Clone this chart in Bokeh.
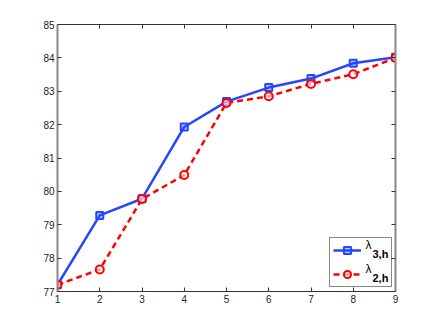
from bokeh.plotting import figure
from bokeh.models import Range1d, LinearAxis, FixedTicker, Legend, LegendItem, Label, CustomJSTickFormatter
from bokeh.embed import file_html
from bokeh.resources import INLINE

x_vals = [1, 2, 3, 4, 5, 6, 7, 8, 9]
lam3h = [77.2, 79.28, 79.78, 81.93, 82.69, 83.11, 83.38, 83.84, 84.02]
lam2h = [77.2, 77.66, 79.77, 80.49, 82.65, 82.85, 83.22, 83.51, 84.0]
x_ticks = [1, 2, 3, 4, 5, 6, 7, 8, 9]
y_ticks = [77, 78, 79, 80, 81, 82, 83, 84, 85]

W, H = 436, 328
p = figure(width=W, height=H, output_backend="svg", toolbar_location=None,
           x_range=Range1d(1, 9), y_range=Range1d(77, 85),
           min_border_left=57, min_border_right=41, min_border_top=24, min_border_bottom=37)
p.grid.visible = False
p.outline_line_color = "#333333"
p.outline_line_width = 1
p.background_fill_color = "white"
p.border_fill_color = "white"

FONT = "Liberation Sans"
for ax in p.xaxis + p.yaxis:
    ax.ticker = FixedTicker(ticks=x_ticks if ax in p.xaxis else y_ticks)
    ax.major_tick_in = 4
    ax.major_tick_out = 0
    ax.minor_tick_line_color = None
    ax.major_label_text_font = FONT
    ax.major_label_text_font_size = "10px"
    ax.major_label_text_color = "#222222"
    ax.major_tick_line_color = "#333333"
    ax.major_label_standoff = 3
p.yaxis.axis_line_color = "#888888"
p.yaxis.axis_line_width = 2
p.xaxis.axis_line_color = "#333333"

blank = CustomJSTickFormatter(code="return ''")
top = LinearAxis(ticker=FixedTicker(ticks=x_ticks), formatter=blank,
                 major_tick_in=4, major_tick_out=0, minor_tick_line_color=None,
                 axis_line_color="#333333", major_tick_line_color="#333333")
right = LinearAxis(ticker=FixedTicker(ticks=y_ticks), formatter=blank,
                   major_tick_in=4, major_tick_out=0, minor_tick_line_color=None,
                   axis_line_color="#888888", axis_line_width=2, major_tick_line_color="#333333")
p.add_layout(top, "above")
p.add_layout(right, "right")

BLUE = "#2446ff"
RED = "#ff0000"
l1 = p.line(x_vals, lam3h, line_color=BLUE, line_width=2.5)
m1 = p.scatter(x_vals, lam3h, marker="square", size=7, line_color=BLUE, line_width=2,
               fill_color=BLUE, fill_alpha=0.3)
l2 = p.line(x_vals, lam2h, line_color=RED, line_width=2.5, line_dash="6 4")
m2 = p.scatter(x_vals, lam2h, marker="circle", size=8, line_color=RED, line_width=2,
               fill_color="white", fill_alpha=0.6)

legend = Legend(items=[LegendItem(label="", renderers=[l1, m1]),
                       LegendItem(label="", renderers=[l2, m2])],
                location=(272, 4), glyph_width=28, glyph_height=18, padding=3,
                spacing=6, label_standoff=3, label_width=24, margin=0,
                border_line_color="#111111", border_line_width=1,
                background_fill_alpha=0.0, label_text_font_size="10px")
p.add_layout(legend, "center")

# legend text: lambda with subscript, positioned relative to frame
for i, sub in enumerate(["3,h", "2,h"]):
    yb = 40 - i * 24
    p.add_layout(Label(x=308, y=yb, x_units="screen", y_units="screen", text="λ",
                       text_font=FONT, text_font_size="12px", text_color="#000000",
                       level="overlay"))
    p.add_layout(Label(x=315, y=yb - 8, x_units="screen", y_units="screen", text=sub,
                       text_font=FONT, text_font_size="11px", text_color="#000000",
                       text_font_style="bold", level="overlay"))

open("out.html", "w").write(file_html(p, INLINE))
